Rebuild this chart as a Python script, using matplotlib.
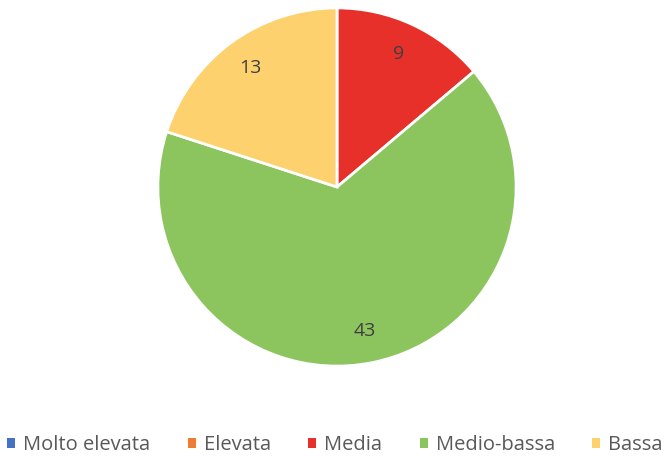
import matplotlib.pyplot as plt
from matplotlib.patches import Patch

categories = ["Molto elevata", "Elevata", "Media", "Medio-bassa", "Bassa"]
values = [0, 0, 9, 43, 13]
colors = ["#4472C4", "#ED7D31", "#E8302A", "#8CC45E", "#FDD26E"]

plt.rcParams['font.family'] = ['Open Sans', 'DejaVu Sans']

fig = plt.figure(figsize=(6.7, 4.65), dpi=100)
ax = fig.add_axes([157 / 670, 98 / 465, 360 / 670, 360 / 465])

total = sum(values)

def fmt(pct):
    v = int(round(pct * total / 100))
    return str(v) if v > 0 else ""

wedges, texts, autotexts = ax.pie(values, colors=colors, startangle=90, counterclock=False,
                                  autopct=fmt, pctdistance=0.82,
                                  wedgeprops=dict(edgecolor="white", linewidth=2),
                                  textprops=dict(color="#404040", fontsize=14))
ax.set_xlim(-1.005, 1.005)
ax.set_ylim(-1.005, 1.005)
ax.set_aspect("equal")

handles = [Patch(facecolor=c, edgecolor="none") for c in colors]
fig.legend(handles, categories, loc="center", bbox_to_anchor=(0.5, 1 - 445 / 465),
           ncol=5, frameon=False, fontsize=14.5, labelcolor="#595959",
           handlelength=0.4, handleheight=0.4, handletextpad=0.4, columnspacing=1.85)

fig.savefig("out.png", dpi=100)
